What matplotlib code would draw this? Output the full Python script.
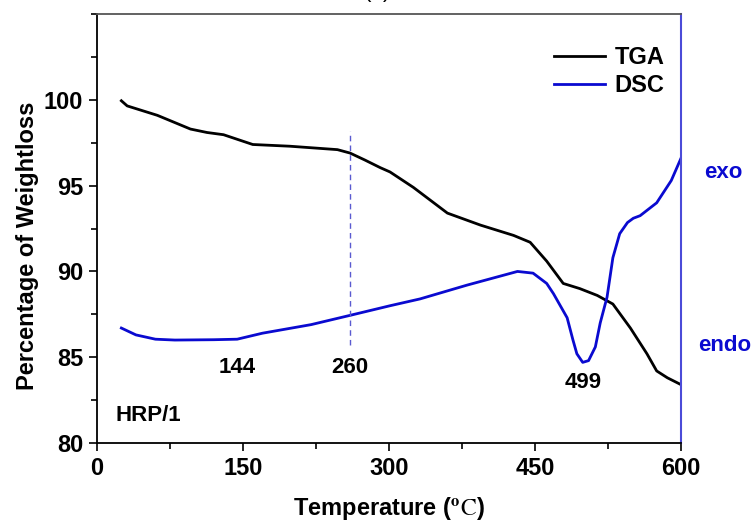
import matplotlib
matplotlib.use("Agg")
import matplotlib.pyplot as plt
from matplotlib.ticker import MultipleLocator

plt.rcParams['font.family'] = ['Liberation Sans', 'DejaVu Sans']
plt.rcParams['mathtext.fontset'] = 'stix'

# TGA curve (weight %)
tga_temp = [25, 31, 62, 96, 113, 130, 160, 198, 247, 260, 275, 291, 301, 325, 360,
            394, 428, 445, 462, 479, 496, 514, 530, 548, 565, 575, 586, 600]
tga_pct = [99.95, 99.65, 99.1, 98.3, 98.1, 97.97, 97.4, 97.3, 97.1, 96.9, 96.5, 96.05,
           95.8, 94.9, 93.4, 92.7, 92.1, 91.7, 90.6, 89.3, 89.0, 88.6, 88.1, 86.7,
           85.2, 84.2, 83.8, 83.4]

# DSC curve, read on the same scale as the left axis
dsc_temp = [25, 40, 60, 80, 120, 144, 170, 220, 260, 301, 332, 380, 432, 448, 462,
            469, 483, 489, 493, 499, 505, 512, 517, 524, 530, 537, 545, 551, 558,
            575, 590, 600]
dsc_val = [86.7, 86.3, 86.05, 86.0, 86.02, 86.05, 86.4, 86.9, 87.44, 88.0, 88.4, 89.2,
           90.0, 89.9, 89.3, 88.7, 87.3, 86.0, 85.2, 84.7, 84.8, 85.6, 87.0, 88.5,
           90.8, 92.2, 92.85, 93.1, 93.25, 94.0, 95.3, 96.6]

peak_labels = ['144', '260', '499']
peak_x = [144, 260, 499]
peak_y = [84.4, 84.4, 83.5]

dash_x = 260
dash_lo, dash_hi = 85.7, 98.2

blue = '#0a0ad0'

fig = plt.figure(figsize=(7.55, 5.23), dpi=100)
ax = fig.add_axes([0.1285, 0.153, 0.902 - 0.1285, 0.973 - 0.153])

ax.plot(tga_temp, tga_pct, color='black', lw=2, label='TGA')
ax.plot(dsc_temp, dsc_val, color=blue, lw=2, label='DSC')
ax.vlines(dash_x, dash_lo, dash_hi, colors='#5a5ad0', linestyles=(0, (4, 3)), lw=1)

for lab, x, y in zip(peak_labels, peak_x, peak_y):
    ax.text(x, y, lab, ha='center', va='center', fontsize=16, fontweight='bold')

ax.text(18.5, 81.6, 'HRP/1', ha='left', va='center', fontsize=16, fontweight='bold')
ax.text(643, 95.75, 'exo', ha='center', va='center', fontsize=16, fontweight='bold',
        color=blue, clip_on=False)
ax.text(645, 85.7, 'endo', ha='center', va='center', fontsize=16, fontweight='bold',
        color=blue, clip_on=False)

ax.set_xlim(0, 600)
ax.set_ylim(80, 105)
ax.xaxis.set_major_locator(MultipleLocator(150))
ax.xaxis.set_minor_locator(MultipleLocator(75))
ax.yaxis.set_major_locator(MultipleLocator(5))
ax.yaxis.set_minor_locator(MultipleLocator(2.5))
ax.set_yticks([80, 85, 90, 95, 100])
ax.tick_params(which='major', length=6, width=1.2, pad=4, labelsize=17)
ax.tick_params(which='minor', length=4, width=1.2)
ax.tick_params(top=False, right=False, which='both')
for t in ax.get_xticklabels() + ax.get_yticklabels():
    t.set_fontweight('bold')

ax.spines['left'].set_linewidth(1.3)
ax.spines['bottom'].set_linewidth(1.3)
ax.spines['top'].set_color('#555555')
ax.spines['top'].set_linewidth(1.3)
ax.spines['right'].set_color('#4b4bd8')
ax.spines['right'].set_linewidth(1.5)

ax.set_xlabel(r'Temperature ($^{\mathbf{o}}\mathrm{C}$)', fontsize=17, fontweight='bold',
              labelpad=11)
ax.set_ylabel('Percentage of Weightloss', fontsize=17, fontweight='bold')
ax.yaxis.set_label_coords(-0.1, 0.46)

leg = ax.legend(loc='upper left', bbox_to_anchor=(0.762, 0.953), frameon=False,
                borderpad=0, handlelength=2.15, handletextpad=0.42, labelspacing=0.2,
                prop={'size': 17, 'weight': 'bold'})

fig.text(0.5, 1 - 1.5 / 523, '(a)', ha='center', va='bottom', fontsize=16)

fig.savefig('out.png', dpi=100)
